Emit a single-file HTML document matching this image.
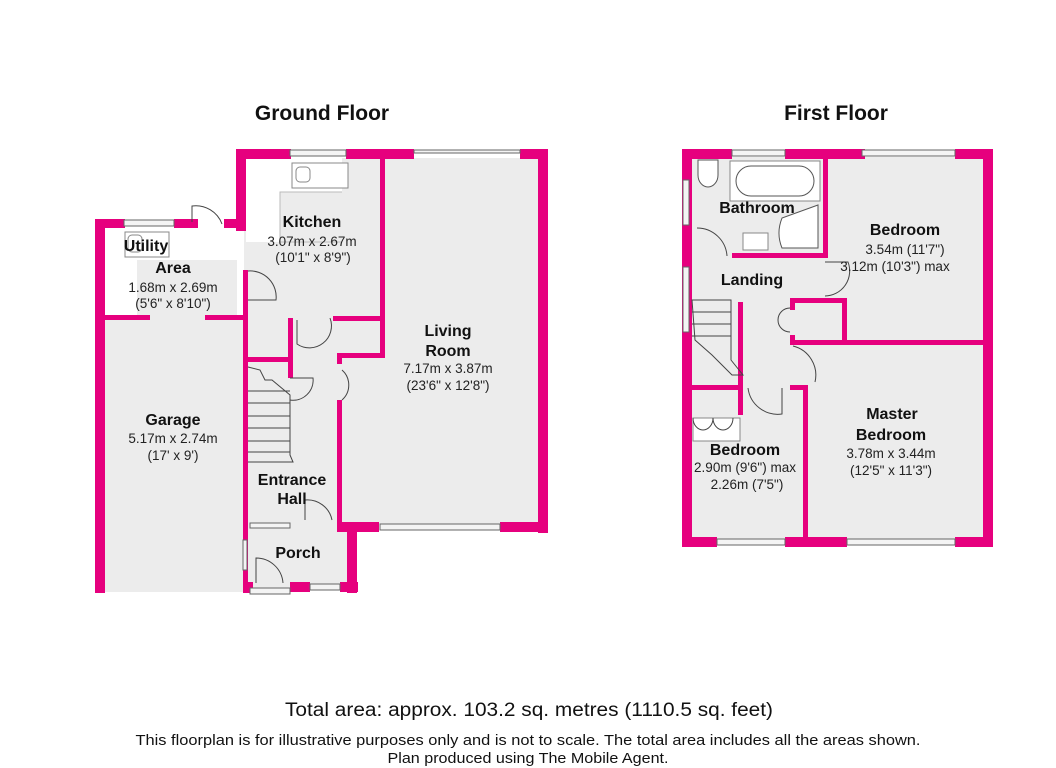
<!DOCTYPE html>
<html><head><meta charset="utf-8"><style>
html,body{margin:0;padding:0;background:#fff;}
svg{display:block;font-family:"Liberation Sans",Arial,sans-serif;}
.t{font-weight:bold;font-size:16px;fill:#111;text-anchor:middle}
.d{font-size:13.5px;fill:#222;text-anchor:middle}
.w{fill:#e6007e}
.win{fill:#f4f4f4;stroke:#666;stroke-width:1}
.ln{fill:none;stroke:#444;stroke-width:1}
.fx{fill:#fff;stroke:#888;stroke-width:1}
</style></head><body>
<svg width="1056" height="768" viewBox="0 0 1056 768">
<rect width="1056" height="768" fill="#fff"/>
<text x="322" y="120" font-size="21" font-weight="bold" text-anchor="middle" fill="#111">Ground Floor</text>
<text x="836" y="120" font-size="21" font-weight="bold" text-anchor="middle" fill="#111">First Floor</text>

<!-- GROUND FLOOR floor fills -->
<rect x="104" y="228" width="140" height="364" fill="#ececec"/>
<rect x="104" y="228" width="140" height="88" fill="#fff"/>
<rect x="137" y="260" width="100" height="56" fill="#ececec"/>
<rect x="244" y="158" width="140" height="168" fill="#ececec"/>
<rect x="246" y="158" width="136" height="84" fill="#fff"/>
<rect x="280" y="192" width="100" height="50" fill="#ececec" stroke="#bbb"/>
<rect x="246" y="320" width="100" height="262" fill="#ececec"/>
<rect x="342" y="158" width="198" height="366" fill="#ececec"/>
<rect x="248" y="530" width="100" height="60" fill="#ececec"/>

<!-- Ground walls -->
<rect class="w" x="95" y="219" width="10" height="374"/>
<rect class="w" x="95" y="219" width="30" height="9"/>
<rect class="w" x="174" y="219" width="24" height="9"/>
<rect class="w" x="224" y="219" width="22" height="9"/>
<rect class="w" x="105" y="315" width="45" height="5"/>
<rect class="w" x="205" y="315" width="43" height="5"/>
<rect class="w" x="243" y="270" width="5" height="323"/>
<rect class="w" x="236" y="149" width="10" height="82"/>
<rect class="w" x="236" y="149" width="55" height="10"/>
<rect class="w" x="346" y="149" width="40" height="10"/>
<rect class="w" x="381" y="149" width="33" height="10"/>
<rect class="w" x="520" y="149" width="28" height="10"/>
<rect class="w" x="380" y="158" width="5" height="200"/>
<rect class="w" x="538" y="149" width="10" height="384"/>
<rect class="w" x="337" y="522" width="42" height="10"/>
<rect class="w" x="500" y="522" width="48" height="10"/>
<rect class="w" x="337" y="353" width="5" height="11"/>
<rect class="w" x="337" y="400" width="5" height="130"/>
<rect class="w" x="342" y="353" width="42" height="5"/>
<rect class="w" x="333" y="316" width="52" height="5"/>
<rect class="w" x="288" y="318" width="5" height="60"/>
<rect class="w" x="246" y="357" width="42" height="5"/>
<rect class="w" x="243" y="582" width="10" height="11"/>
<rect class="w" x="290" y="582" width="20" height="10"/>
<rect class="w" x="340" y="582" width="18" height="10"/>
<rect class="w" x="347" y="525" width="10" height="68"/>
<rect class="w" x="243" y="530" width="5" height="10"/>
<!-- ground windows -->
<rect class="win" x="290" y="150" width="56" height="6"/>
<rect class="win" x="414" y="150" width="106" height="3"/>
<rect class="win" x="124" y="220" width="50" height="6"/>
<rect class="win" x="380" y="524" width="120" height="6"/>
<rect class="win" x="250" y="523" width="40" height="5"/>
<rect class="win" x="243" y="540" width="4" height="30"/>
<rect class="win" x="310" y="584" width="30" height="6"/>
<rect class="win" x="250" y="588" width="40" height="6"/>
<!-- sinks -->
<rect class="fx" x="292" y="163" width="56" height="25"/>
<rect class="fx" x="296" y="167" width="14" height="15" rx="4"/>
<rect class="fx" x="125" y="232" width="44" height="25"/>
<rect class="fx" x="128" y="235" width="14" height="17" rx="4"/>
<!-- stairs -->
<g class="ln">
<path d="M248 367 L260 370 L265 380 L272 380 L290 395 L290 455 L293 462 L248 462"/>
<line x1="248" y1="391" x2="290" y2="391"/><line x1="248" y1="403" x2="290" y2="403"/>
<line x1="248" y1="416" x2="290" y2="416"/><line x1="248" y1="428" x2="290" y2="428"/>
<line x1="248" y1="441" x2="290" y2="441"/><line x1="248" y1="452" x2="290" y2="452"/>
<path d="M192 222 L192 206 A28 28 0 0 1 222 224"/>
<path d="M248 271 A26 26 0 0 1 276 300 L248 300"/>
<path d="M297 320 L297 344 A22 22 0 0 0 330 318"/>
<path d="M290 378 L313 378 A20 20 0 0 1 290 400"/>
<path d="M342 370 A20 20 0 0 1 342 400"/>
<path d="M305 500 L305 520 M305 500 A25 25 0 0 1 332 520"/>
<path d="M256 583 L256 558 A27 27 0 0 1 283 583"/>
</g>
<text class="t" x="146" y="251">Utility</text>
<text class="t" x="173" y="273">Area</text>
<text class="d" x="173" y="292">1.68m x 2.69m</text>
<text class="d" x="173" y="308">(5'6" x 8'10")</text>
<text class="t" x="312" y="227">Kitchen</text>
<text class="d" x="312" y="246">3.07m x 2.67m</text>
<text class="d" x="313" y="262">(10'1" x 8'9")</text>
<text class="t" x="448" y="336">Living</text>
<text class="t" x="448" y="356">Room</text>
<text class="d" x="448" y="373">7.17m x 3.87m</text>
<text class="d" x="448" y="390">(23'6" x 12'8")</text>
<text class="t" x="173" y="425">Garage</text>
<text class="d" x="173" y="443">5.17m x 2.74m</text>
<text class="d" x="173" y="460">(17' x 9')</text>
<text class="t" x="292" y="485">Entrance</text>
<text class="t" x="292" y="504">Hall</text>
<text class="t" x="298" y="558">Porch</text>

<!-- FIRST FLOOR -->
<rect x="690" y="157" width="295" height="383" fill="#ececec"/>
<rect x="730" y="161" width="90" height="40" fill="#fff" stroke="#888"/>
<rect x="736" y="166" width="78" height="30" rx="15" fill="#fff" stroke="#555"/>
<path d="M782 218 A40 40 0 0 0 782 248 L818 248 L818 205 Z" fill="#fff" stroke="#555"/>
<path d="M698 160 L718 160 L718 175 A10 12 0 0 1 698 175 Z" fill="#fff" stroke="#555"/>
<rect x="743" y="233" width="25" height="17" fill="#fff" stroke="#888"/>
<rect x="693" y="418" width="47" height="23" fill="#fff" stroke="#888"/>
<g class="w">
<rect x="682" y="149" width="10" height="398"/>
<rect x="682" y="149" width="50" height="10"/>
<rect x="785" y="149" width="80" height="10"/>
<rect x="955" y="149" width="38" height="10"/>
<rect x="983" y="149" width="10" height="398"/>
<rect x="682" y="537" width="35" height="10"/>
<rect x="785" y="537" width="62" height="10"/>
<rect x="955" y="537" width="38" height="10"/>
<rect x="823" y="158" width="5" height="100"/>
<rect x="732" y="253" width="96" height="5"/>
<rect x="790" y="298" width="57" height="5"/>
<rect x="842" y="298" width="5" height="45"/>
<rect x="790" y="298" width="5" height="12"/>
<rect x="790" y="335" width="5" height="10"/>
<rect x="795" y="340" width="190" height="5"/>
<rect x="738" y="302" width="5" height="113"/>
<rect x="692" y="385" width="50" height="5"/>
<rect x="790" y="385" width="18" height="5"/>
<rect x="803" y="385" width="5" height="155"/>
</g>
<rect class="win" x="732" y="150" width="53" height="6"/>
<rect class="win" x="862" y="150" width="93" height="6"/>
<rect class="win" x="683" y="180" width="6" height="45"/>
<rect class="win" x="683" y="267" width="6" height="65"/>
<rect class="win" x="717" y="539" width="68" height="6"/>
<rect class="win" x="847" y="539" width="108" height="6"/>
<g class="ln">
<path d="M692 300 L731 300 L731 360 L743 375 L732 375 L712 355 L695 340 Z"/>
<line x1="692" y1="312" x2="731" y2="312"/><line x1="692" y1="324" x2="731" y2="324"/><line x1="692" y1="336" x2="731" y2="336"/>
<path d="M697 228 A30 30 0 0 1 727 256"/>
<path d="M825 262 L848 262 A25 25 0 0 1 825 296"/>
<path d="M790 308 A12 12 0 0 0 790 332"/>
<path d="M793 346 A30 30 0 0 1 815 382"/>
<path d="M748 388 A30 30 0 0 0 782 414 L782 388"/>
<path d="M693 418 A10 12 0 0 0 713 418 M713 418 A10 12 0 0 0 733 418"/>
</g>
<text class="t" x="757" y="213">Bathroom</text>
<text class="t" x="752" y="285">Landing</text>
<text class="t" x="905" y="235">Bedroom</text>
<text class="d" x="905" y="254">3.54m (11'7")</text>
<text class="d" x="895" y="271">3.12m (10'3") max</text>
<text class="t" x="892" y="419">Master</text>
<text class="t" x="891" y="440">Bedroom</text>
<text class="d" x="891" y="458">3.78m x 3.44m</text>
<text class="d" x="891" y="475">(12'5" x 11'3")</text>
<text class="t" x="745" y="455">Bedroom</text>
<text class="d" x="745" y="472">2.90m (9'6") max</text>
<text class="d" x="747" y="489">2.26m (7'5")</text>

<text x="529" y="716" font-size="19" text-anchor="middle" fill="#111" textLength="488" lengthAdjust="spacingAndGlyphs">Total area: approx. 103.2 sq. metres (1110.5 sq. feet)</text>
<text x="528" y="745" font-size="15" text-anchor="middle" fill="#111" textLength="785" lengthAdjust="spacingAndGlyphs">This floorplan is for illustrative purposes only and is not to scale. The total area includes all the areas shown.</text>
<text x="528" y="763" font-size="15" text-anchor="middle" fill="#111" textLength="281" lengthAdjust="spacingAndGlyphs">Plan produced using The Mobile Agent.</text>
</svg>
</body></html>
